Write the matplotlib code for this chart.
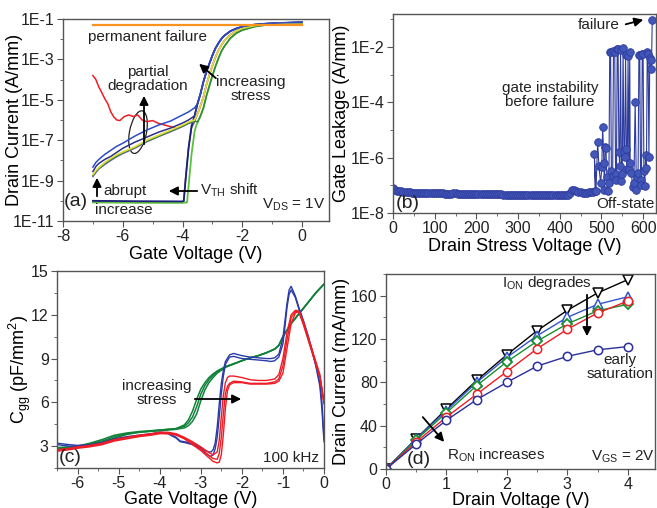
import numpy as np
import matplotlib
matplotlib.use("Agg")
import matplotlib.pyplot as plt
from matplotlib.patches import Ellipse, FancyArrowPatch
from matplotlib.ticker import FixedLocator, FixedFormatter, NullFormatter, MultipleLocator

plt.rcParams['font.family'] = ['Liberation Sans', 'DejaVu Sans']
plt.rcParams['mathtext.default'] = 'regular'
plt.rcParams['axes.unicode_minus'] = False

W, H = 657, 508

# -----------------------------
# (a) transfer curves, log10(Id) values
# -----------------------------
sub_v = [-7.0, -6.9, -6.8, -6.6, -6.4, -6.2, -6.0, -5.6, -5.2, -4.8, -4.4, -4.0, -3.8, -3.6]
tr_v = [-3.5, -3.4, -3.3, -3.2, -3.1, -3.0, -2.9, -2.8, -2.7, -2.6, -2.4, -2.2, -2.0, -1.6, -1.2, -0.8, -0.4, 0.0]

sub_blue = [-8.33, -8.1, -7.95, -7.7, -7.5, -7.3, -7.15, -6.8, -6.5, -6.25, -6.05, -5.75, -5.6, -5.4]
sub_navy = [-8.55, -8.3, -8.15, -7.95, -7.8, -7.6, -7.4, -7.1, -6.85, -6.6, -6.4, -6.15, -6.0, -5.8]
sub_yellow = [-8.7, -8.5, -8.35, -8.1, -7.9, -7.72, -7.58, -7.33, -7.0, -6.75, -6.5, -6.25, -6.1, -6.0]
sub_green = [-8.75, -8.55, -8.4, -8.15, -7.95, -7.78, -7.62, -7.36, -7.05, -6.8, -6.55, -6.3, -6.15, -6.05]
sub_purple = [-8.8, -8.6, -8.42, -8.2, -8.0, -7.82, -7.66, -7.4, -7.08, -6.82, -6.58, -6.32, -6.17, -6.08]

tr_left = [-5.2, -4.7, -4.1, -3.6, -3.2, -2.8, -2.45, -2.2, -1.98, -1.82, -1.6, -1.47, -1.38, -1.28, -1.23, -1.2, -1.18, -1.16]
tr_mid = [-5.7, -5.3, -4.85, -4.25, -3.75, -3.3, -2.9, -2.55, -2.3, -2.07, -1.78, -1.58, -1.46, -1.33, -1.26, -1.22, -1.2, -1.18]
tr_right = [-6.1, -5.8, -5.4, -4.8, -4.3, -3.8, -3.35, -2.95, -2.6, -2.35, -1.95, -1.7, -1.55, -1.38, -1.29, -1.24, -1.21, -1.19]

red_v = [-7.0, -6.9, -6.8, -6.7, -6.6, -6.5, -6.4, -6.3, -6.2, -6.1, -5.95, -5.8, -5.65, -5.5, -5.35, -5.2, -5.0, -4.8, -4.6, -4.4, -4.2, -4.0, -3.8, -3.6]
red_log = [-3.8, -4.0, -4.37, -4.65, -4.95, -5.2, -5.6, -5.85, -6.0, -6.03, -5.83, -5.75, -5.83, -5.75, -6.0, -6.08, -6.03, -6.17, -6.25, -6.33, -6.42, -6.3, -6.15, -6.02]

vth_v = [-7.0, -5.5, -4.0, -3.96, -3.9, -3.8, -3.7, -3.6]
vth_navy = [-10.0, -10.02, -10.03, -10.0, -9.0, -7.4, -6.3, -5.8]
vth2_v = [-7.0, -5.5, -4.0, -3.85, -3.8, -3.7, -3.6, -3.55]
vth_green = [-10.08, -10.1, -10.1, -10.08, -9.3, -7.7, -6.6, -6.3]
vth_gray = [-10.04, -10.06, -10.07, -10.05, -8.9, -7.4, -6.4, -6.1]

fail_v = [-7.0, 0.0]
fail_log = [-1.3, -1.3]

# -----------------------------
# (b) gate leakage vs drain stress
# -----------------------------
flat_v = list(range(0, 490, 5))
flat_e8 = [8.0, 7.0, 6.4, 6.2, 6.0, 5.8, 5.7, 5.7, 5.6, 5.5,
           5.5, 5.4, 5.4, 5.3, 5.3, 5.3, 5.3, 5.2, 5.2, 5.2,
           5.2, 5.1, 5.1, 5.1, 5.1, 5.0, 5.0, 5.0, 5.0, 5.1,
           5.1, 5.0, 5.0, 4.9, 4.9, 4.9, 4.9, 4.9, 4.9, 4.8,
           4.8, 4.8, 4.8, 4.8, 4.8, 4.7, 4.7, 4.8, 4.8, 4.7,
           4.7, 4.7, 4.7, 4.6, 4.6, 4.6, 4.6, 4.6, 4.6, 4.5,
           4.5, 4.6, 4.6, 4.5, 4.5, 4.5, 4.5, 4.5, 4.5, 4.6,
           4.6, 4.5, 4.5, 4.5, 4.5, 4.5, 4.5, 4.4, 4.4, 4.4,
           4.5, 4.5, 4.5, 4.5, 4.6, 5.2, 6.6, 7.0, 6.0, 5.8,
           5.6, 5.5, 5.5, 5.4, 5.6, 5.7, 5.8, 6.0]
inst_v = [483, 487, 491, 494, 498, 501, 503, 506, 507, 509, 511, 513, 515, 518, 520, 522, 524,
          527, 529, 532, 534, 536, 538, 540, 542, 544, 546, 548, 550, 552, 554, 556, 558, 560,
          562, 564, 566, 568, 569, 572, 575, 578, 581, 584, 586, 588, 590, 592, 594, 596, 598,
          600, 602, 604, 606, 608, 610, 612, 614, 616, 618, 620, 622]
inst_log = [-5.86, -7.2, -5.42, -6.3, -6.92, -6.35, -4.88, -6.2, -7.16, -5.6, -5.65, -6.7, -7.22,
            -6.9, -2.17, -2.18, -6.5, -6.68, -2.15, -2.18, -6.6, -6.8, -2.08, -2.06, -5.78, -6.3,
            -2.1, -6.86, -6.6, -2.03, -5.8, -5.96, -2.29, -5.7, -6.4, -2.33, -6.4, -2.18, -6.2,
            -6.56, -7.05, -6.9, -3.98, -7.16, -6.7, -6.56, -2.29, -2.3, -6.8, -6.98, -2.25, -2.24,
            -6.5, -7.04, -5.9, -6.38, -2.2, -2.24, -5.96, -2.4, -2.48, -2.81, -1.04]

# -----------------------------
# (c) C-V curves
# -----------------------------
cv_g = [-6.5, -6.2, -6.0, -5.7, -5.4, -5.1, -4.8, -4.5, -4.0, -3.6, -3.4, -3.3, -3.2, -3.1, -3.0, -2.9,
        -2.8, -2.7, -2.6, -2.4, -2.2, -2.0, -1.8, -1.6, -1.4, -1.2, -1.1, -1.0, -0.8, -0.6, -0.4, -0.2, 0.0]
green1 = [2.9, 2.95, 3.0, 3.2, 3.45, 3.75, 3.9, 4.0, 4.1, 4.2, 4.45, 4.8, 5.4, 6.2, 6.9, 7.35, 7.7,
          7.95, 8.15, 8.45, 8.65, 8.85, 9.05, 9.2, 9.4, 9.65, 9.9, 10.5, 11.4, 12.1, 12.8, 13.5, 14.1]
green2 = [2.85, 2.9, 3.0, 3.15, 3.35, 3.65, 3.85, 3.95, 4.1, 4.2, 4.35, 4.6, 5.0, 5.7, 6.55, 7.15, 7.55,
          7.85, 8.1, 8.42, 8.63, 8.85, 9.05, 9.2, 9.4, 9.65, 9.9, 10.5, 11.4, 12.1, 12.8, 13.5, 14.1]
green3 = [2.8, 2.85, 2.95, 3.1, 3.3, 3.55, 3.8, 3.95, 4.05, 4.15, 4.25, 4.4, 4.7, 5.2, 6.1, 6.85, 7.35,
          7.7, 8.0, 8.4, 8.62, 8.85, 9.05, 9.2, 9.4, 9.65, 9.9, 10.5, 11.4, 12.1, 12.8, 13.5, 14.1]

cv_b = [-6.5, -6.2, -6.0, -5.7, -5.4, -5.1, -4.8, -4.5, -4.2, -4.0, -3.8, -3.6, -3.5, -3.4, -3.2, -3.0,
        -2.9, -2.8, -2.75, -2.7, -2.65, -2.6, -2.55, -2.5, -2.45, -2.4, -2.3, -2.2, -2.0, -1.8, -1.6,
        -1.4, -1.3, -1.2, -1.1, -1.0, -0.95, -0.9, -0.85, -0.8, -0.7, -0.6, -0.5, -0.4, -0.3, -0.2,
        -0.1, -0.05, 0.0]
blue1 = [3.2, 3.1, 3.05, 3.1, 3.25, 3.5, 3.65, 3.75, 3.85, 3.95, 3.9, 3.6, 3.35, 3.3, 3.2, 2.9,
         2.7, 2.6, 2.6, 2.75, 3.2, 4.3, 5.9, 7.3, 8.2, 8.8, 9.25, 9.35, 9.2, 9.1, 9.05,
         9.0, 9.0, 9.05, 9.3, 10.4, 11.6, 12.8, 13.7, 13.95, 13.3, 12.4, 11.6, 10.7, 9.7, 8.6,
         7.3, 6.0, 3.5]
blue2 = [3.1, 3.0, 3.0, 3.05, 3.2, 3.4, 3.6, 3.7, 3.8, 3.9, 3.85, 3.55, 3.3, 3.25, 3.1, 2.8,
         2.55, 2.35, 2.3, 2.4, 2.8, 3.6, 5.0, 6.6, 7.8, 8.6, 9.1, 9.15, 9.0, 8.95, 8.9,
         8.85, 8.8, 8.85, 9.1, 10.0, 11.2, 12.5, 13.4, 13.7, 13.2, 12.3, 11.5, 10.6, 9.6, 8.5,
         7.1, 5.5, 3.3]

cv_r = [-6.5, -6.2, -6.0, -5.7, -5.4, -5.1, -4.8, -4.5, -4.2, -4.0, -3.8, -3.6, -3.4, -3.2, -3.0, -2.9,
        -2.8, -2.7, -2.6, -2.55, -2.5, -2.45, -2.4, -2.35, -2.3, -2.2, -2.0, -1.8, -1.6, -1.4, -1.2,
        -1.1, -1.0, -0.9, -0.8, -0.7, -0.65, -0.6, -0.5, -0.4, -0.3, -0.2, -0.1, 0.0]
red1 = [2.75, 2.85, 2.95, 3.05, 3.2, 3.45, 3.6, 3.75, 3.85, 3.95, 3.95, 3.85, 3.6, 3.3, 2.95, 2.75,
        2.55, 2.4, 2.6, 3.4, 5.0, 6.5, 7.35, 7.7, 7.8, 7.8, 7.7, 7.55, 7.5, 7.5, 7.6,
        7.9, 9.0, 10.8, 12.0, 12.3, 12.3, 12.2, 11.5, 10.6, 9.7, 8.8, 7.9, 6.0]
red2 = [2.7, 2.8, 2.9, 3.0, 3.15, 3.4, 3.55, 3.7, 3.8, 3.9, 3.9, 3.8, 3.55, 3.2, 2.8, 2.6,
        2.35, 2.15, 2.1, 2.5, 3.6, 5.2, 6.6, 7.1, 7.3, 7.45, 7.4, 7.3, 7.3, 7.3, 7.4,
        7.6, 8.5, 10.3, 11.8, 12.2, 12.25, 12.15, 11.4, 10.5, 9.6, 8.7, 7.8, 6.0]
red3 = [2.65, 2.75, 2.85, 2.95, 3.1, 3.35, 3.5, 3.65, 3.75, 3.85, 3.85, 3.75, 3.5, 3.1, 2.7, 2.45,
        2.2, 1.95, 1.85, 1.9, 2.4, 3.8, 5.6, 6.8, 7.2, 7.35, 7.35, 7.25, 7.25, 7.25, 7.3,
        7.45, 8.0, 9.7, 11.4, 12.1, 12.2, 12.1, 11.3, 10.4, 9.5, 8.6, 7.7, 5.9]

# -----------------------------
# (d) output curves
# -----------------------------
vd = [0, 0.5, 1, 1.5, 2, 2.5, 3, 3.5, 4]
id_black = [0, 28, 55.4, 81.8, 105.5, 127.7, 146.5, 162.5, 174.8]
id_blue = [0, 28, 54, 80, 103, 123, 140, 152, 159]
id_green = [0, 27, 52, 77, 99, 118, 134, 146, 152]
id_red = [0, 25, 48, 69, 90, 111, 129, 144, 155]
id_navy = [0, 23, 45, 64, 80, 95, 104, 110, 113]

# -----------------------------
# Figure
# -----------------------------
fig = plt.figure(figsize=(W / 100, H / 100), dpi=100)


def add_ax(l, t, r, b):
    return fig.add_axes([l / W, 1 - b / H, (r - l) / W, (b - t) / H])


def fp(x, y):
    return (x / W, 1 - y / H)


def txt(x, y, s, ha='left', size=11, **kw):
    fig.text(x / W, 1 - y / H, s, ha=ha, va='center', fontsize=size, color='#222222', **kw)


def arrow(x0, y0, x1, y1):
    fig.add_artist(FancyArrowPatch(
        fp(x0, y0), fp(x1, y1), transform=fig.transFigure, arrowstyle='-|>',
        mutation_scale=13, lw=1.3, color='black'))


def style(ax):
    for s in ax.spines.values():
        s.set_color('#555555')
        s.set_linewidth(1.0)
    ax.tick_params(which='both', direction='out', top=False, right=False,
                   colors='#555555', labelcolor='#222222', labelsize=11.5)
    ax.tick_params(which='major', length=4, pad=2)
    ax.tick_params(which='minor', length=2.5)


def to_pow(lst):
    return 10.0 ** np.array(lst)


# ---- (a)
ax = add_ax(63, 19, 329, 221)
ax.set_yscale('log')
ax.plot(vth_v, to_pow(vth_gray), color='#6E6E6E', lw=1.1)
ax.plot(vth2_v + tr_v[1:], to_pow(vth_green + tr_right[1:]), color='#5CBF3F', lw=1.3)
ax.plot(vth_v + tr_v, to_pow(vth_navy + tr_left), color='#1B1F7A', lw=1.3)
ax.plot(red_v + tr_v, to_pow(red_log + tr_mid), color='#EE1C25', lw=1.1)
ax.plot(sub_v + tr_v, to_pow(sub_purple + tr_mid), color='#7A5BB5', lw=1.1)
ax.plot(sub_v + tr_v, to_pow(sub_green + tr_right), color='#2E8B3A', lw=1.1)
ax.plot(sub_v + tr_v, to_pow(sub_navy + tr_left), color='#2A2F8F', lw=1.1)
ax.plot(sub_v + tr_v, to_pow(sub_yellow + tr_mid), color='#E3DC3A', lw=1.2)
ax.plot(sub_v + tr_v, to_pow(sub_blue + tr_left), color='#2B4BC8', lw=1.1)
ax.plot(fail_v, to_pow(fail_log), color='#F7941D', lw=1.6)
ax.set_xlim(-8, 0.9)
ax.set_ylim(1e-11, 1e-1)
ax.yaxis.set_major_locator(FixedLocator([1e-11, 1e-9, 1e-7, 1e-5, 1e-3, 1e-1]))
ax.yaxis.set_major_formatter(FixedFormatter(['1E-11', '1E-9', '1E-7', '1E-5', '1E-3', '1E-1']))
ax.yaxis.set_minor_locator(FixedLocator([1e-10, 1e-8, 1e-6, 1e-4, 1e-2]))
ax.yaxis.set_minor_formatter(NullFormatter())
ax.xaxis.set_major_locator(MultipleLocator(2))
ax.xaxis.set_minor_locator(MultipleLocator(1))
style(ax)
ax.set_xlabel('Gate Voltage (V)', fontsize=13, labelpad=1)
ax.set_ylabel('Drain Current (A/mm)', fontsize=13)
ax.yaxis.set_label_coords(-0.15, 0.5)
ax.add_patch(Ellipse((0.282, 0.44), 0.064, 0.213, angle=-8, transform=ax.transAxes,
                     fill=False, ec='#222222', lw=0.9))

# ---- (b)
bx = add_ax(393, 14, 656, 213)
bx.set_yscale('log')
gv = flat_v + inst_v
gi = list(np.array(flat_e8) * 1e-8) + list(to_pow(inst_log))
bx.plot(gv, gi, color='#2E3C9E', lw=0.8, marker='o', ms=5.5, mfc='#4257B8', mec='#2E3C9E', mew=0.6)
bx.set_xlim(0, 631)
bx.set_ylim(1e-8, 10 ** -0.81)
bx.yaxis.set_major_locator(FixedLocator([1e-8, 1e-6, 1e-4, 1e-2]))
bx.yaxis.set_major_formatter(FixedFormatter(['1E-8', '1E-6', '1E-4', '1E-2']))
bx.yaxis.set_minor_locator(FixedLocator([1e-7, 1e-5, 1e-3, 1e-1]))
bx.yaxis.set_minor_formatter(NullFormatter())
bx.xaxis.set_major_locator(MultipleLocator(100))
bx.xaxis.set_minor_locator(MultipleLocator(50))
style(bx)
bx.set_xlabel('Drain Stress Voltage (V)', fontsize=13, labelpad=1)
bx.set_ylabel('Gate Leakage (A/mm)', fontsize=13)
bx.yaxis.set_label_coords(-0.163, 0.5)

# ---- (c)
cx = add_ax(57, 271, 324, 468)
for c in (green1, green2, green3):
    cx.plot(cv_g, c, color='#11813A', lw=1.1)
for c in (blue1, blue2):
    cx.plot(cv_b, c, color='#2A3BA8', lw=1.0)
for c in (red1, red2, red3):
    cx.plot(cv_r, c, color='#EE1C25', lw=1.0)
cx.set_xlim(-6.5, 0)
cx.set_ylim(1.5, 15)
cx.yaxis.set_major_locator(MultipleLocator(3))
cx.yaxis.set_minor_locator(MultipleLocator(1.5))
cx.xaxis.set_major_locator(MultipleLocator(1))
cx.xaxis.set_minor_locator(MultipleLocator(0.5))
style(cx)
cx.set_xlabel('Gate Voltage (V)', fontsize=13, labelpad=0)
cx.set_ylabel('C$_{gg}$ (pF/mm$^2$)', fontsize=13)
cx.yaxis.set_label_coords(-0.09, 0.5)

# ---- (d)
dx = add_ax(386, 274, 655, 469)
dx.plot(vd, id_black, color='black', lw=1.0, marker='v', ms=6.5, mfc='white', mew=1.1)
dx.plot(vd, id_blue, color='#3355CC', lw=1.0, marker='^', ms=6.5, mfc='white', mew=1.1)
dx.plot(vd, id_green, color='#179030', lw=1.0, marker='D', ms=5.5, mfc='white', mew=1.3)
dx.plot(vd, id_red, color='#EE1C25', lw=1.0, marker='o', ms=6, mfc='white', mew=1.1)
dx.plot(vd, id_navy, color='#2A2F9A', lw=1.0, marker='o', ms=6, mfc='white', mew=1.1)
dx.set_xlim(0, 4.45)
dx.set_ylim(0, 180)
dx.yaxis.set_major_locator(MultipleLocator(40))
dx.yaxis.set_minor_locator(MultipleLocator(20))
dx.xaxis.set_major_locator(MultipleLocator(1))
dx.xaxis.set_minor_locator(MultipleLocator(0.5))
style(dx)
dx.set_xlabel('Drain Voltage (V)', fontsize=13, labelpad=0)
dx.set_ylabel('Drain Current (mA/mm)', fontsize=13)
dx.yaxis.set_label_coords(-0.135, 0.5)

# -----------------------------
# Annotations
# -----------------------------
txt(88, 37, 'permanent failure')
txt(148, 79, 'partial\ndegradation', ha='center', linespacing=0.95)
arrow(144, 147, 144, 93)
txt(251, 89, 'increasing\nstress', ha='center', linespacing=0.95)
arrow(218, 80, 197, 62)
txt(103, 191, 'abrupt')
txt(95, 210, 'increase')
arrow(97, 199, 97, 175)
txt(200, 190, 'V$_{TH}$ shift')
arrow(200, 191, 166, 191)
txt(64, 202, '(a)', size=14)
txt(326, 205, 'V$_{DS}$ = 1V', ha='right')

txt(620, 25, 'failure', ha='right')
arrow(623, 25, 646, 19)
txt(550, 95, 'gate instability\nbefore failure', ha='center', linespacing=0.95)
txt(396, 204, '(b)', size=14)
txt(655, 204, 'Off-state', ha='right')

txt(157, 393, 'increasing\nstress', ha='center', linespacing=0.95)
arrow(192, 399, 244, 399)
txt(59, 458, '(c)', size=14)
txt(319, 458, '100 kHz', ha='right')

txt(502, 283, 'I$_{ON}$ degrades')
arrow(587, 292, 587, 339)
txt(620, 367, 'early\nsaturation', ha='center', linespacing=0.95)
arrow(421, 415, 446, 444)
txt(447, 455, 'R$_{ON}$ increases')
txt(407, 460, '(d)', size=14)
txt(655, 457, 'V$_{GS}$ = 2V', ha='right')

plt.savefig('out.png', dpi=100)
